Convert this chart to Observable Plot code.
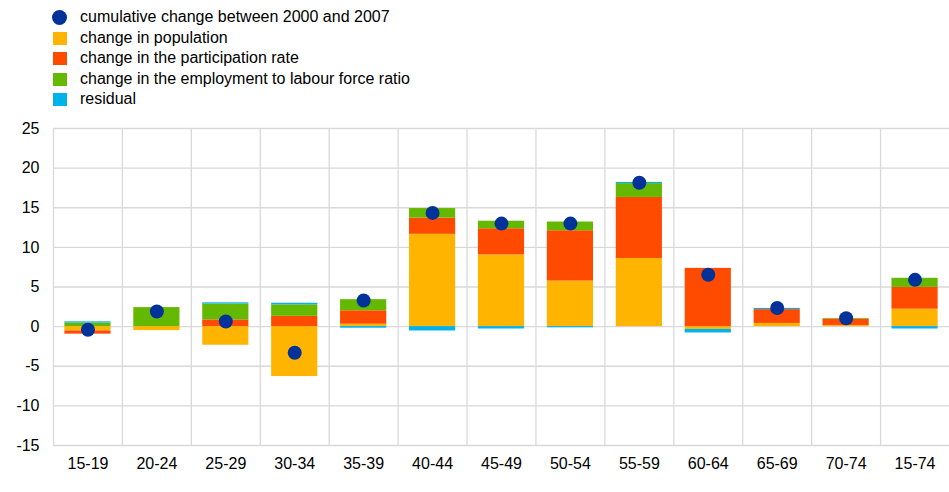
<!DOCTYPE html>
<html>
<head>
<meta charset="utf-8">
<script src="https://cdn.jsdelivr.net/npm/d3@7"></script>
<script src="https://cdn.jsdelivr.net/npm/@observablehq/plot@0.6"></script>
<style>
  html, body { margin: 0; padding: 0; background: #fff; }
  body { width: 949px; height: 492px; overflow: hidden; font-family: Arial, "Liberation Sans", sans-serif; }
  #legend { position: relative; height: 110px; }
  .item { position: absolute; left: 0; height: 20px; display: flex; align-items: center; font-size: 16px; color: #000; white-space: nowrap; }
  .sw { position: absolute; left: 53px; width: 14px; height: 13px; }
  .circ { position: absolute; left: 52px; width: 15px; height: 15px; border-radius: 50%; }
  .lab { position: absolute; left: 80px; }
</style>
</head>
<body>
<div id="legend"></div>
<div id="chart"></div>
<script>
const categories = ["15-19","20-24","25-29","30-34","35-39","40-44","45-49","50-54","55-59","60-64","65-69","70-74","15-74"];
const population    = [-0.55, -0.5, -2.35, -6.3, 0.3, 11.65, 9.05, 5.75, 8.6, -0.35, 0.4, 0.15, 2.2];
const participation = [-0.4, 0, 0.85, 1.3, 1.7, 2.05, 3.3, 6.35, 7.7, 7.35, 1.75, 0.8, 2.75];
const employment    = [0.45, 2.4, 2.0, 1.45, 1.4, 1.2, 0.95, 1.1, 1.75, 0, 0, 0.08, 1.15];
const residual      = [0.15, 0, 0.15, 0.2, -0.2, -0.55, -0.3, -0.15, 0.15, -0.45, 0.15, 0, -0.3];
const cumulative    = [-0.4, 1.9, 0.65, -3.3, 3.3, 14.35, 13.0, 13.0, 18.15, 6.55, 2.35, 1.05, 5.9];
const yTicks = [-15, -10, -5, 0, 5, 10, 15, 20, 25];

const dotLabel = "cumulative change between 2000 and 2007";
const seriesNames = ["change in population", "change in the participation rate", "change in the employment to labour force ratio", "residual"];
const seriesColors = ["#FFB400", "#FF4B00", "#65B800", "#00B1EA"];
const dotColor = "#003299";
const seriesValues = [population, participation, employment, residual];

// legend
const legend = document.getElementById("legend");
const rowsY = [7, 28, 48, 69, 89];
const entries = [{name: dotLabel, color: dotColor, dot: true}].concat(seriesNames.map((n, i) => ({name: n, color: seriesColors[i], dot: false})));
entries.forEach((e, i) => {
  const it = document.createElement("div");
  it.className = "item";
  it.style.top = rowsY[i] + "px";
  it.style.width = "600px";
  const m = document.createElement("div");
  m.className = e.dot ? "circ" : "sw";
  m.style.background = e.color;
  const l = document.createElement("span");
  l.className = "lab";
  l.textContent = e.name;
  it.appendChild(m); it.appendChild(l);
  legend.appendChild(it);
});

const tidy = [];
seriesNames.forEach((s, si) => {
  categories.forEach((c, ci) => tidy.push({cat: c, series: s, value: seriesValues[si][ci]}));
});
const dots = categories.map((c, i) => ({cat: c, value: cumulative[i]}));

const W = 949, ML = 53, MR = 0;
const step = (W - ML - MR) / categories.length;
const grid = "#d9d9d9";

const chart = Plot.plot({
  width: W,
  height: 382,
  marginLeft: ML,
  marginRight: MR,
  marginTop: 18,
  marginBottom: 47,
  style: {fontSize: "16px", fontFamily: "Arial, 'Liberation Sans', sans-serif", color: "#000", background: "#fff"},
  x: {domain: categories, paddingInner: 0.33, paddingOuter: 0.165, round: false, label: null},
  y: {domain: [-15, 25], label: null},
  color: {domain: seriesNames, range: seriesColors},
  marks: [
    Plot.ruleY(yTicks, {stroke: grid, strokeWidth: 1.3}),
    Plot.ruleX(categories, {x: d => d, dx: -step / 2, stroke: grid, strokeWidth: 1.3}),
    Plot.barY(tidy, {x: "cat", y: "value", fill: "series", order: seriesNames}),
    Plot.dot(dots, {x: "cat", y: "value", r: 7, fill: dotColor}),
    Plot.axisY({ticks: yTicks, tickSize: 0, tickPadding: 14, tickFormat: d => String(d), label: null}),
    Plot.axisX({tickSize: 0, tickPadding: 12, label: null})
  ]
});
document.getElementById("chart").appendChild(chart);
</script>
</body>
</html>
